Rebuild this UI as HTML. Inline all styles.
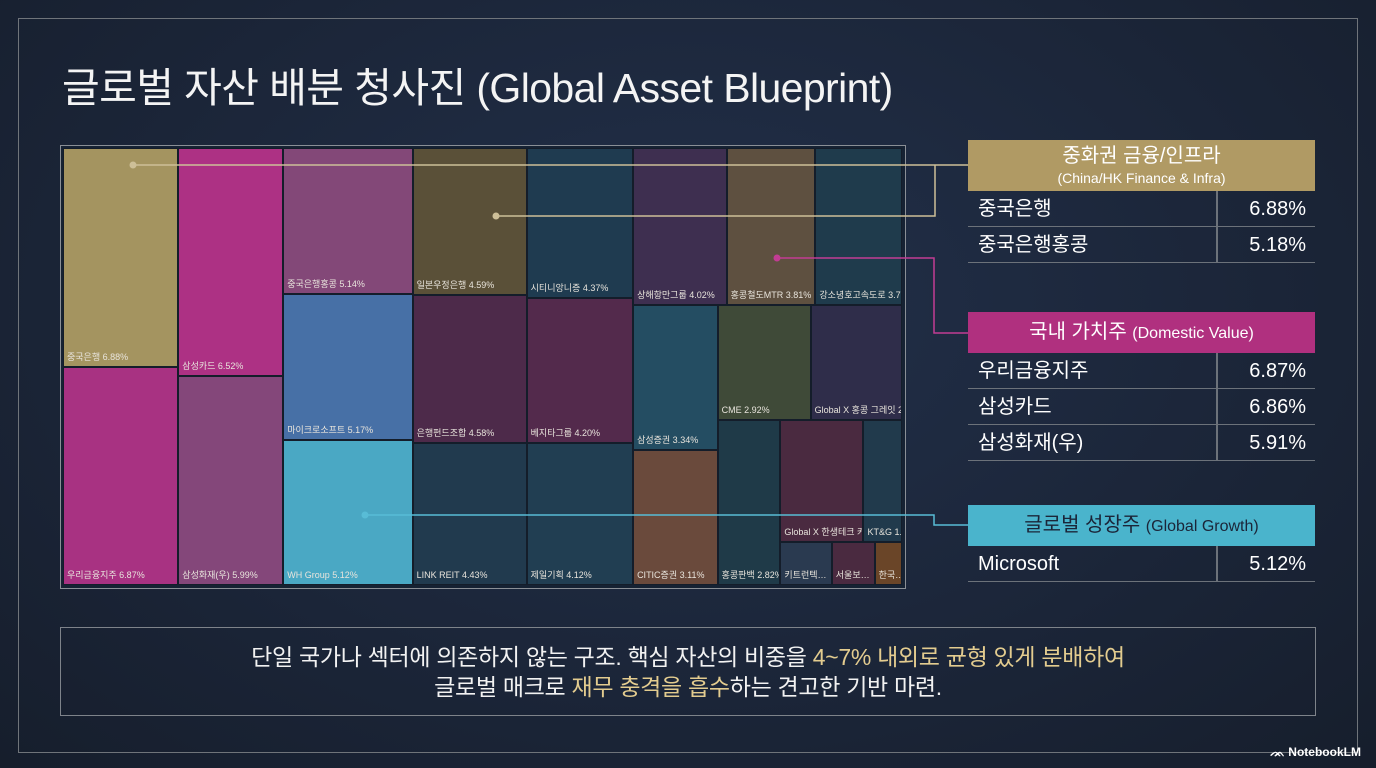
<!DOCTYPE html>
<html><head><meta charset="utf-8">
<style>
*{margin:0;padding:0;box-sizing:border-box}
body{width:1376px;height:768px;overflow:hidden;background:radial-gradient(ellipse at 50% 40%,#22304a 0%,#1b2538 60%,#161e2c 100%);font-family:"Liberation Sans","Noto Sans CJK KR",sans-serif;color:#fff;position:relative}
.frame{position:absolute;left:18px;top:18px;width:1340px;height:735px;border:1.5px solid #6f747a}
h1{position:absolute;left:62px;top:54px;font-size:41px;font-weight:400;letter-spacing:-0.6px;color:#f4f4f4}
#tm{position:absolute;left:60px;top:145px;width:846px;height:444px;border:1.5px solid #8a8f96;background:#162233}
.cell{position:absolute;border:1.5px solid #141d2a;overflow:hidden}
.cell span{position:absolute;left:3px;bottom:3px;font-size:9px;color:#e8e4dc;white-space:nowrap;line-height:11px}
svg#links{position:absolute;left:0;top:0}
.hdr{position:absolute;left:968px;width:347px;text-align:center;color:#fff}
.row{position:absolute;left:968px;width:347px;height:36px;border-bottom:1.5px solid #6c727a;font-size:20px;line-height:36px}
.row .n{position:absolute;left:10px}
.row .v{position:absolute;right:9px}
.row .d{position:absolute;left:248px;top:0;width:1.5px;height:36px;background:#6c727a}
.note{position:absolute;left:60px;top:627px;width:1256px;height:89px;border:1.5px solid #7e838a;text-align:center;font-size:23px;line-height:30px;padding-top:14px;color:#f2f2f2;letter-spacing:-0.3px}
.g{color:#e3cc8f}
.logo{position:absolute;left:1270px;top:745px;font-size:12px;color:#fff;font-weight:bold}
</style></head><body>
<div class="frame"></div>
<h1>글로벌 자산 배분 청사진 (Global Asset Blueprint)</h1>
<div id="tm"></div>
<svg id="links" width="1376" height="768">
<g fill="none" stroke-width="1.5">
<polyline points="133,165 934,165 968,165" stroke="#cdbf98"/>
<polyline points="496,216 935,216 935,165" stroke="#cdbf98"/>
<polyline points="777,258 934,258 934,333 968,333" stroke="#c23c93"/>
<polyline points="365,515 934,515 934,525 968,525" stroke="#58bcd6"/>
</g>
<circle cx="133" cy="165" r="3.5" fill="#cdbf98"/>
<circle cx="496" cy="216" r="3.5" fill="#cdbf98"/>
<circle cx="777" cy="258" r="3.5" fill="#c23c93"/>
<circle cx="365" cy="515" r="3.5" fill="#58bcd6"/>
</svg>

<div class="hdr" style="top:140px;height:51px;background:#b09a64"><div style="font-size:20px;line-height:26px;padding-top:3px">중화권 금융/인프라</div><div style="font-size:14px;line-height:18px">(China/HK Finance &amp; Infra)</div></div>
<div class="row" style="top:191px"><span class="n">중국은행</span><span class="d"></span><span class="v">6.88%</span></div>
<div class="row" style="top:227px"><span class="n">중국은행홍콩</span><span class="d"></span><span class="v">5.18%</span></div>

<div class="hdr" style="top:312px;height:41px;background:#b0307f;font-size:20px;line-height:41px">국내 가치주 <span style="font-size:16px">(Domestic Value)</span></div>
<div class="row" style="top:353px"><span class="n">우리금융지주</span><span class="d"></span><span class="v">6.87%</span></div>
<div class="row" style="top:389px"><span class="n">삼성카드</span><span class="d"></span><span class="v">6.86%</span></div>
<div class="row" style="top:425px"><span class="n">삼성화재(우)</span><span class="d"></span><span class="v">5.91%</span></div>

<div class="hdr" style="top:505px;height:41px;background:#4ab4cc;color:#1b2538;font-size:20px;line-height:41px">글로벌 성장주 <span style="font-size:16px">(Global Growth)</span></div>
<div class="row" style="top:546px"><span class="n">Microsoft</span><span class="d"></span><span class="v">5.12%</span></div>

<div class="note">단일 국가나 섹터에 의존하지 않는 구조. 핵심 자산의 비중을 <span class="g">4~7% 내외로 균형 있게 분배하여</span><br>글로벌 매크로 <span class="g">재무 충격을 흡수</span>하는 견고한 기반 마련.</div>
<div class="logo">ᨏ NotebookLM</div>

<script>
const labels = ["중국은행 6.88%","우리금융지주 6.87%","삼성카드 6.52%","삼성화재(우) 5.99%","중국은행홍콩 5.14%","마이크로소프트 5.17%","WH Group 5.12%","일본우정은행 4.59%","은행펀드조합 4.58%","LINK REIT 4.43%","시티니앙니증 4.37%","베지타그룹 4.20%","제일기획 4.12%","상해항만그룹 4.02%","홍콩철도MTR 3.81%","강소녕호고속도로 3.72%","삼성증권 3.34%","CITIC증권 3.11%","CME 2.92%","Global X 홍콩 그레잇 2.87%","홍콩판백 2.82%","Global X 한생테크 커버드콜 2.76%","KT&G 1.28%","키트런텍…","서울보…","한국…"];
const values = [6.88,6.87,6.52,5.99,5.14,5.17,5.12,4.59,4.58,4.43,4.37,4.20,4.12,4.02,3.81,3.72,3.34,3.11,2.92,2.87,2.82,2.76,1.28,0.6,0.5,0.32];
const colors = ["#a49460","#a83282","#ad3184","#84477a","#834878","#4770a6","#4aa8c4","#5a5038","#4d2a4a","#213a4e","#1f3b50","#532a4c","#213e52","#3e2f50","#5e5040","#1f3b4c","#244d62","#6a4a3c","#3f4a38","#2f2d4a","#1f3a48","#4a2a40","#213a4c","#2a3a50","#4a2a40","#6a4528"];
// layout tree: [direction, children]; numbers are indexes into values
const tree = ['h',[['v',[0,1]],['v',[2,3]],['v',[4,5,6]],['v',[7,8,9]],['v',[10,11,12]],
  ['v',[['h',[13,14,15]],['h',[['v',[16,17]],['v',[['h',[18,19]],['h',[20,['v',[['h',[21,22]],['h',[23,24,25]]]]]]]]]]]]]];
function sum(n){return typeof n==='number'?values[n]:n[1].reduce((a,c)=>a+sum(c),0);}
const tm=document.getElementById('tm');
const W=843,H=441;
function layout(n,x,y,w,h){
  if(typeof n==='number'){
    const d=document.createElement('div');
    d.className='cell';
    
    
    d.style.cssText=`left:${x}px;top:${y}px;width:${w}px;height:${h}px;background:${colors[n]}`;
    const s=document.createElement('span');s.textContent=labels[n];d.appendChild(s);
    tm.appendChild(d);return;
  }
  const t=sum(n);let o=0;
  n[1].forEach(c=>{const f=sum(c)/t;
    if(n[0]==='h'){layout(c,x+o,y,w*f,h);o+=w*f;}else{layout(c,x,y+o,w,h*f);o+=h*f;}});
}
layout(tree,2,2,W-4,H-4);
</script>
</body></html>
